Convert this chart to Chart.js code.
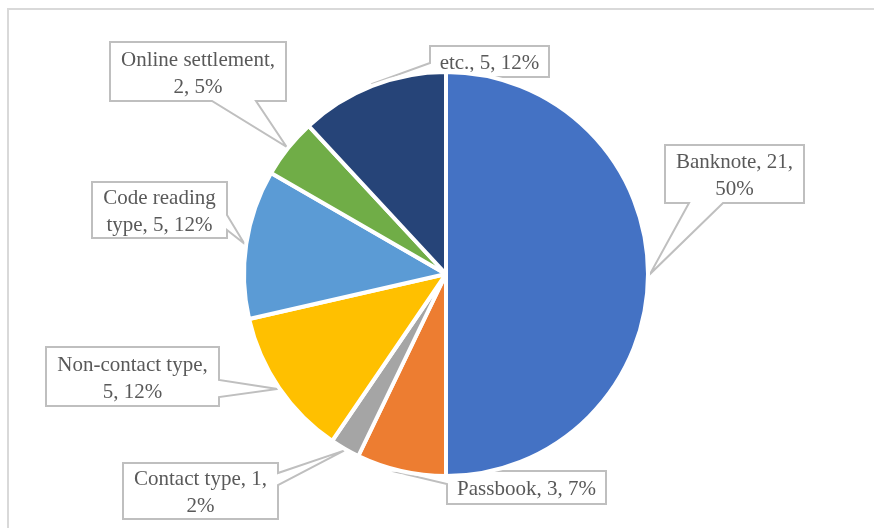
<!DOCTYPE html>
<html>
<head>
<meta charset="utf-8">
<script src="https://cdn.jsdelivr.net/npm/chart.js@4"></script>
<style>
  html, body { margin: 0; padding: 0; background: #ffffff; }
  #wrap { width: 874px; height: 528px; position: relative; }
</style>
</head>
<body>
<div id="wrap"><canvas id="c" width="874" height="528"></canvas></div>
<script>
// Pie data: card/medium categories and their counts
const categories = ['Banknote', 'Passbook', 'Contact type', 'Non-contact type', 'Code reading type', 'Online settlement', 'etc.'];
const counts = [21, 3, 1, 5, 5, 2, 5];
const sliceColors = ['#4472C4', '#ED7D31', '#A5A5A5', '#FFC000', '#5B9BD5', '#70AD47', '#264478'];

// Callout layout: box [left, top, right, bottom], the side the pointer leaves from,
// and the span of the pointer base along that side
const calloutLayout = [
  { box: [665, 145, 804, 203], side: 'bottom', base: [689, 723] },
  { box: [447, 471, 606, 504], side: 'left',   base: [474, 484] },
  { box: [123, 463, 278, 519], side: 'right',  base: [473, 485] },
  { box: [46, 347, 219, 406],  side: 'right',  base: [380, 397] },
  { box: [92, 182, 227, 238],  side: 'right',  base: [215, 230] },
  { box: [110, 42, 286, 101],  side: 'bottom', base: [212, 256] },
  { box: [430, 46, 549, 77],   side: 'left',   base: [63, 73] }
];

const LABEL_FONT = '21px "Liberation Serif", "Times New Roman", serif';
const LINE_H = 27;

function calloutPath(ctx, b, side, base, tip) {
  const [l, t, r, btm] = b;
  ctx.beginPath();
  ctx.moveTo(l, t);
  if (side === 'top') { ctx.lineTo(base[0], t); ctx.lineTo(tip.x, tip.y); ctx.lineTo(base[1], t); }
  ctx.lineTo(r, t);
  if (side === 'right') { ctx.lineTo(r, base[0]); ctx.lineTo(tip.x, tip.y); ctx.lineTo(r, base[1]); }
  ctx.lineTo(r, btm);
  if (side === 'bottom') { ctx.lineTo(base[1], btm); ctx.lineTo(tip.x, tip.y); ctx.lineTo(base[0], btm); }
  ctx.lineTo(l, btm);
  if (side === 'left') { ctx.lineTo(l, base[1]); ctx.lineTo(tip.x, tip.y); ctx.lineTo(l, base[0]); }
  ctx.closePath();
}

function wrapWords(ctx, text, maxW) {
  const words = text.split(' ');
  const lines = [];
  let cur = '';
  for (const w of words) {
    const test = cur ? cur + ' ' + w : w;
    if (cur && ctx.measureText(test).width > maxW) {
      lines.push(cur);
      cur = w;
    } else {
      cur = test;
    }
  }
  if (cur) lines.push(cur);
  return lines;
}

// Outer frame of the chart area
const framePlugin = {
  id: 'frame',
  beforeDraw(chart) {
    const ctx = chart.ctx;
    ctx.save();
    ctx.strokeStyle = '#D9D9D9';
    ctx.lineWidth = 2;
    ctx.strokeRect(8, 9, 1000, 1000);
    ctx.restore();
  }
};

// Callout data labels: "name, value, percent%" in boxed wedge callouts
const calloutPlugin = {
  id: 'callouts',
  beforeDatasetsDraw(chart) {
    const ctx = chart.ctx;
    const meta = chart.getDatasetMeta(0);
    const values = chart.data.datasets[0].data;
    const total = values.reduce((a, v) => a + v, 0);
    ctx.save();
    ctx.font = LABEL_FONT;
    meta.data.forEach((arc, i) => {
      const lay = calloutLayout[i];
      const mid = (arc.startAngle + arc.endAngle) / 2;
      const rr = arc.outerRadius + 2;
      const tip = { x: arc.x + Math.cos(mid) * rr, y: arc.y + Math.sin(mid) * rr };
      calloutPath(ctx, lay.box, lay.side, lay.base, tip);
      ctx.fillStyle = '#FFFFFF';
      ctx.fill();
      ctx.strokeStyle = '#BFBFBF';
      ctx.lineWidth = 2;
      ctx.lineJoin = 'miter';
      ctx.stroke();

      const pct = Math.round(values[i] / total * 100);
      const text = chart.data.labels[i] + ', ' + values[i] + ', ' + pct + '%';
      const [l, t, r, b] = lay.box;
      const lines = wrapWords(ctx, text, r - l - 12);
      const cx = (l + r) / 2;
      const cy = (t + b) / 2 + 2;
      ctx.fillStyle = '#595959';
      ctx.textAlign = 'center';
      ctx.textBaseline = 'middle';
      lines.forEach((ln, k) => {
        ctx.fillText(ln, cx, cy + (k - (lines.length - 1) / 2) * LINE_H);
      });
    });
    ctx.restore();
  }
};

new Chart(document.getElementById('c'), {
  type: 'pie',
  data: {
    labels: categories,
    datasets: [{
      data: counts,
      backgroundColor: sliceColors,
      borderColor: '#FFFFFF',
      borderWidth: 4
    }]
  },
  options: {
    responsive: false,
    animation: false,
    devicePixelRatio: 1,
    radius: 202,
    layout: { padding: { left: 18, top: 20, right: 0, bottom: 0 } },
    plugins: {
      legend: { display: false },
      tooltip: { enabled: false }
    }
  },
  plugins: [framePlugin, calloutPlugin]
});
</script>
</body>
</html>
